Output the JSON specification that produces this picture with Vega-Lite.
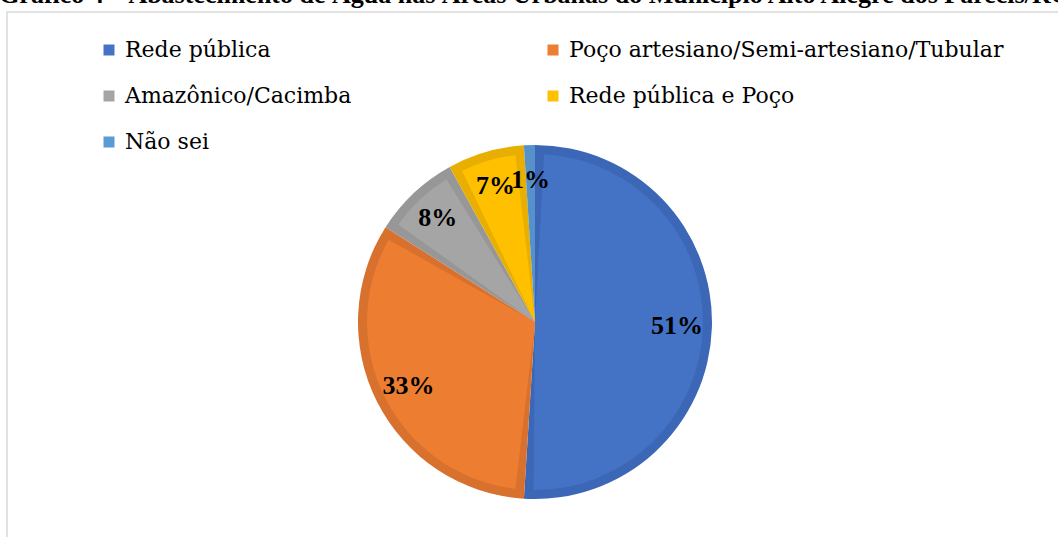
{
  "$schema": "https://vega.github.io/schema/vega-lite/v6.json",
  "autosize": "none",
  "padding": {"left": 7, "top": 12, "right": 0, "bottom": 0},
  "width": 1056,
  "height": 620,
  "title": {
    "text": "Gráfico 4 – Abastecimento de Água nas Áreas Urbanas do Município Alto Alegre dos Parecis/RO",
    "anchor": "middle",
    "frame": "group",
    "baseline": "alphabetic",
    "offset": 7,
    "dy": 25,
    "font": "Liberation Serif",
    "fontSize": 26,
    "fontWeight": "bold",
    "color": "#000000"
  },
  "data": {
    "values": [
      {"categoria": "Rede pública", "pct": 0.51},
      {"categoria": "Poço artesiano/Semi-artesiano/Tubular", "pct": 0.33},
      {"categoria": "Amazônico/Cacimba", "pct": 0.08},
      {"categoria": "Rede pública e Poço", "pct": 0.07},
      {"categoria": "Não sei", "pct": 0.01}
    ]
  },
  "encoding": {
    "theta": {"field": "pct", "type": "quantitative", "stack": true},
    "order": {"field": "pct", "type": "quantitative", "sort": "descending"}
  },
  "layer": [
    {
      "data": {"values": [{"frame": 1}]},
      "mark": {"type": "rect", "fill": null, "fillOpacity": 0, "stroke": "#d9d9d9", "strokeWidth": 1.5},
      "encoding": {"theta": null, "order": null}
    },
    {
      "mark": {"type": "arc", "outerRadius": 177},
      "encoding": {
        "color": {
          "field": "categoria",
          "type": "nominal",
          "scale": {
            "domain": ["Rede pública", "Poço artesiano/Semi-artesiano/Tubular", "Amazônico/Cacimba", "Rede pública e Poço", "Não sei"],
            "range": ["#3b67b6", "#d8712d", "#979797", "#e8ae00", "#5592cc"]
          },
          "legend": null
        }
      }
    },
    {
      "mark": {"type": "arc", "outerRadius": 168, "padAngle": 0.107},
      "encoding": {
        "color": {
          "field": "categoria",
          "type": "nominal",
          "scale": {
            "domain": ["Rede pública", "Poço artesiano/Semi-artesiano/Tubular", "Amazônico/Cacimba", "Rede pública e Poço", "Não sei"],
            "range": ["#4472c4", "#ed7d31", "#a5a5a5", "#ffc000", "#5b9bd5"]
          },
          "legend": {
            "title": null,
            "orient": "none",
            "legendX": 91,
            "legendY": 27,
            "direction": "horizontal",
            "columns": 2,
            "columnPadding": 190,
            "rowPadding": 24,
            "symbolType": "square",
            "symbolSize": 121,
            "symbolStrokeWidth": 0,
            "labelFont": "DejaVu Serif",
            "labelFontSize": 22,
            "labelColor": "#000000",
            "labelOffset": 5,
            "labelLimit": 700,
            "padding": 0
          }
        }
      }
    },
    {
      "mark": {"type": "text", "radius": 142, "font": "Liberation Serif", "fontSize": 26, "fontWeight": "bold", "color": "#000000"},
      "encoding": {
        "text": {"field": "pct", "type": "quantitative", "format": ".0%"}
      }
    }
  ],
  "resolve": {"scale": {"color": "independent"}},
  "config": {
    "font": "Liberation Serif",
    "view": {"stroke": "#d9d9d9", "strokeWidth": 1.5},
    "legend": {
      "labelFont": "DejaVu Serif",
      "labelFontSize": 22,
      "labelColor": "#000000",
      "labelLimit": 700
    }
  }
}
